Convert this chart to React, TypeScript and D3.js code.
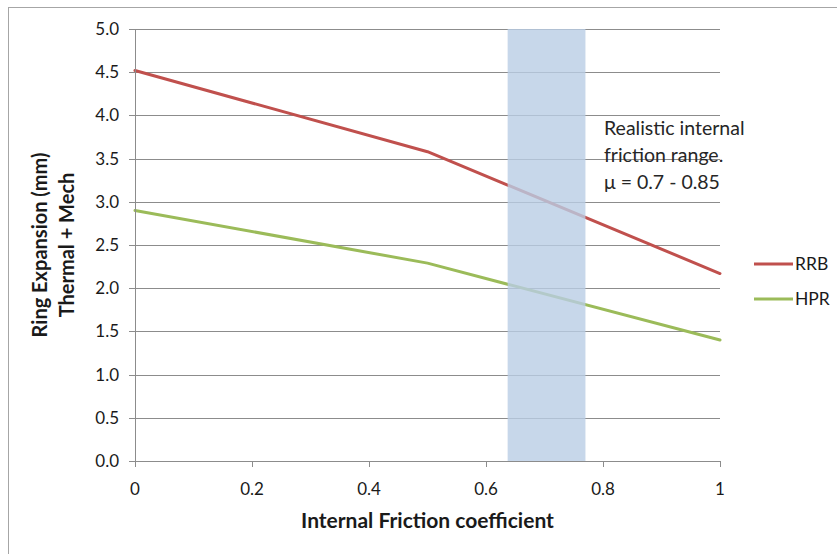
import React from "react";
import * as d3 from "d3";

const xValues = [0, 0.5, 1];
const rrbValues = [4.52, 3.58, 2.17];
const hprValues = [2.9, 2.29, 1.4];
const seriesNames = ["RRB", "HPR"];
const xTicks = [0, 0.2, 0.4, 0.6, 0.8, 1];
const yTicks = [0, 0.5, 1, 1.5, 2, 2.5, 3, 3.5, 4, 4.5, 5];
const bandRange = [0.637, 0.77];
const noteLines = ["Realistic internal", "friction range.", "\u03bc = 0.7 - 0.85"];

const W = 837;
const H = 554;
const M = { left: 135, right: 720, top: 29, bottom: 461 };
const FONT = "Lato, 'Open Sans', sans-serif";
const colors = ["#c0504d", "#9bbb59"];
const TXT = "#1a1a1a";

export default function App() {
  const x = d3.scaleLinear().domain([0, 1]).range([M.left, M.right]);
  const y = d3.scaleLinear().domain([0, 5]).range([M.bottom, M.top]);
  const line = d3
    .line<[number, number]>()
    .x((d) => x(d[0]))
    .y((d) => y(d[1]));
  const series = [rrbValues, hprValues];

  return (
    <svg
      width={W}
      height={H}
      style={{ position: "absolute", left: 0, top: 0, display: "block" }}
      fontFamily={FONT}
    >
      <rect x={0} y={0} width={W} height={H} fill="#fff" />
      <rect x={8.5} y={7.5} width={W + 10} height={H + 10} fill="none" stroke="#a6a6a6" strokeWidth={1} />
      {yTicks.map((t) => (
        <line
          key={"g" + t}
          x1={M.left}
          x2={M.right}
          y1={Math.round(y(t)) + 0.5}
          y2={Math.round(y(t)) + 0.5}
          stroke="#8c8c8c"
          strokeWidth={1}
        />
      ))}
      {series.map((vals, i) => (
        <path
          key={"s" + i}
          d={line(xValues.map((xv, j) => [xv, vals[j]] as [number, number])) || ""}
          fill="none"
          stroke={colors[i]}
          strokeWidth={3}
          strokeLinejoin="round"
          strokeLinecap="round"
        />
      ))}
      <rect
        x={x(bandRange[0])}
        y={M.top}
        width={x(bandRange[1]) - x(bandRange[0])}
        height={M.bottom - M.top}
        fill="#b9cde5"
        opacity={0.8}
      />
      <line x1={M.left + 0.5} x2={M.left + 0.5} y1={M.top} y2={M.bottom} stroke="#8c8c8c" />
      <line x1={M.left} x2={M.right + 1} y1={M.bottom + 0.5} y2={M.bottom + 0.5} stroke="#8c8c8c" />
      {yTicks.map((t) => (
        <g key={"yt" + t}>
          <line
            x1={M.left - 6}
            x2={M.left}
            y1={Math.round(y(t)) + 0.5}
            y2={Math.round(y(t)) + 0.5}
            stroke="#8c8c8c"
          />
          <text x={119} y={y(t)} dy="0.35em" textAnchor="end" fontSize={17} fill={TXT}>
            {t.toFixed(1)}
          </text>
        </g>
      ))}
      {xTicks.map((t) => (
        <g key={"xt" + t}>
          <line
            x1={Math.round(x(t)) + 0.5}
            x2={Math.round(x(t)) + 0.5}
            y1={M.bottom}
            y2={M.bottom + 6}
            stroke="#8c8c8c"
          />
          <text x={x(t)} y={489} dy="0.35em" textAnchor="middle" fontSize={17} fill={TXT}>
            {String(t)}
          </text>
        </g>
      ))}
      <text
        x={(M.left + M.right) / 2}
        y={521}
        dy="0.35em"
        textAnchor="middle"
        fontSize={21}
        fontWeight="bold"
        fill={TXT}
      >
        Internal Friction coefficient
      </text>
      <g transform="translate(40,245) rotate(-90)">
        <text x={0} y={0} dy="0.35em" textAnchor="middle" fontSize={20} fontWeight="bold" fill={TXT}>
          Ring Expansion (mm)
        </text>
        <text x={0} y={27} dy="0.35em" textAnchor="middle" fontSize={20} fontWeight="bold" fill={TXT}>
          Thermal + Mech
        </text>
      </g>
      {noteLines.map((l, i) => (
        <text key={"n" + i} x={604} y={128 + i * 27} dy="0.35em" fontSize={19.5} fill="#262626">
          {l}
        </text>
      ))}
      {seriesNames.map((n, i) => (
        <g key={"l" + n} transform={`translate(754,${264 + i * 35})`}>
          <line x1={0} x2={39} y1={0} y2={0} stroke={colors[i]} strokeWidth={3} />
          <text x={41} y={0} dy="0.35em" fontSize={17.5} fill={TXT}>
            {n}
          </text>
        </g>
      ))}
    </svg>
  );
}
